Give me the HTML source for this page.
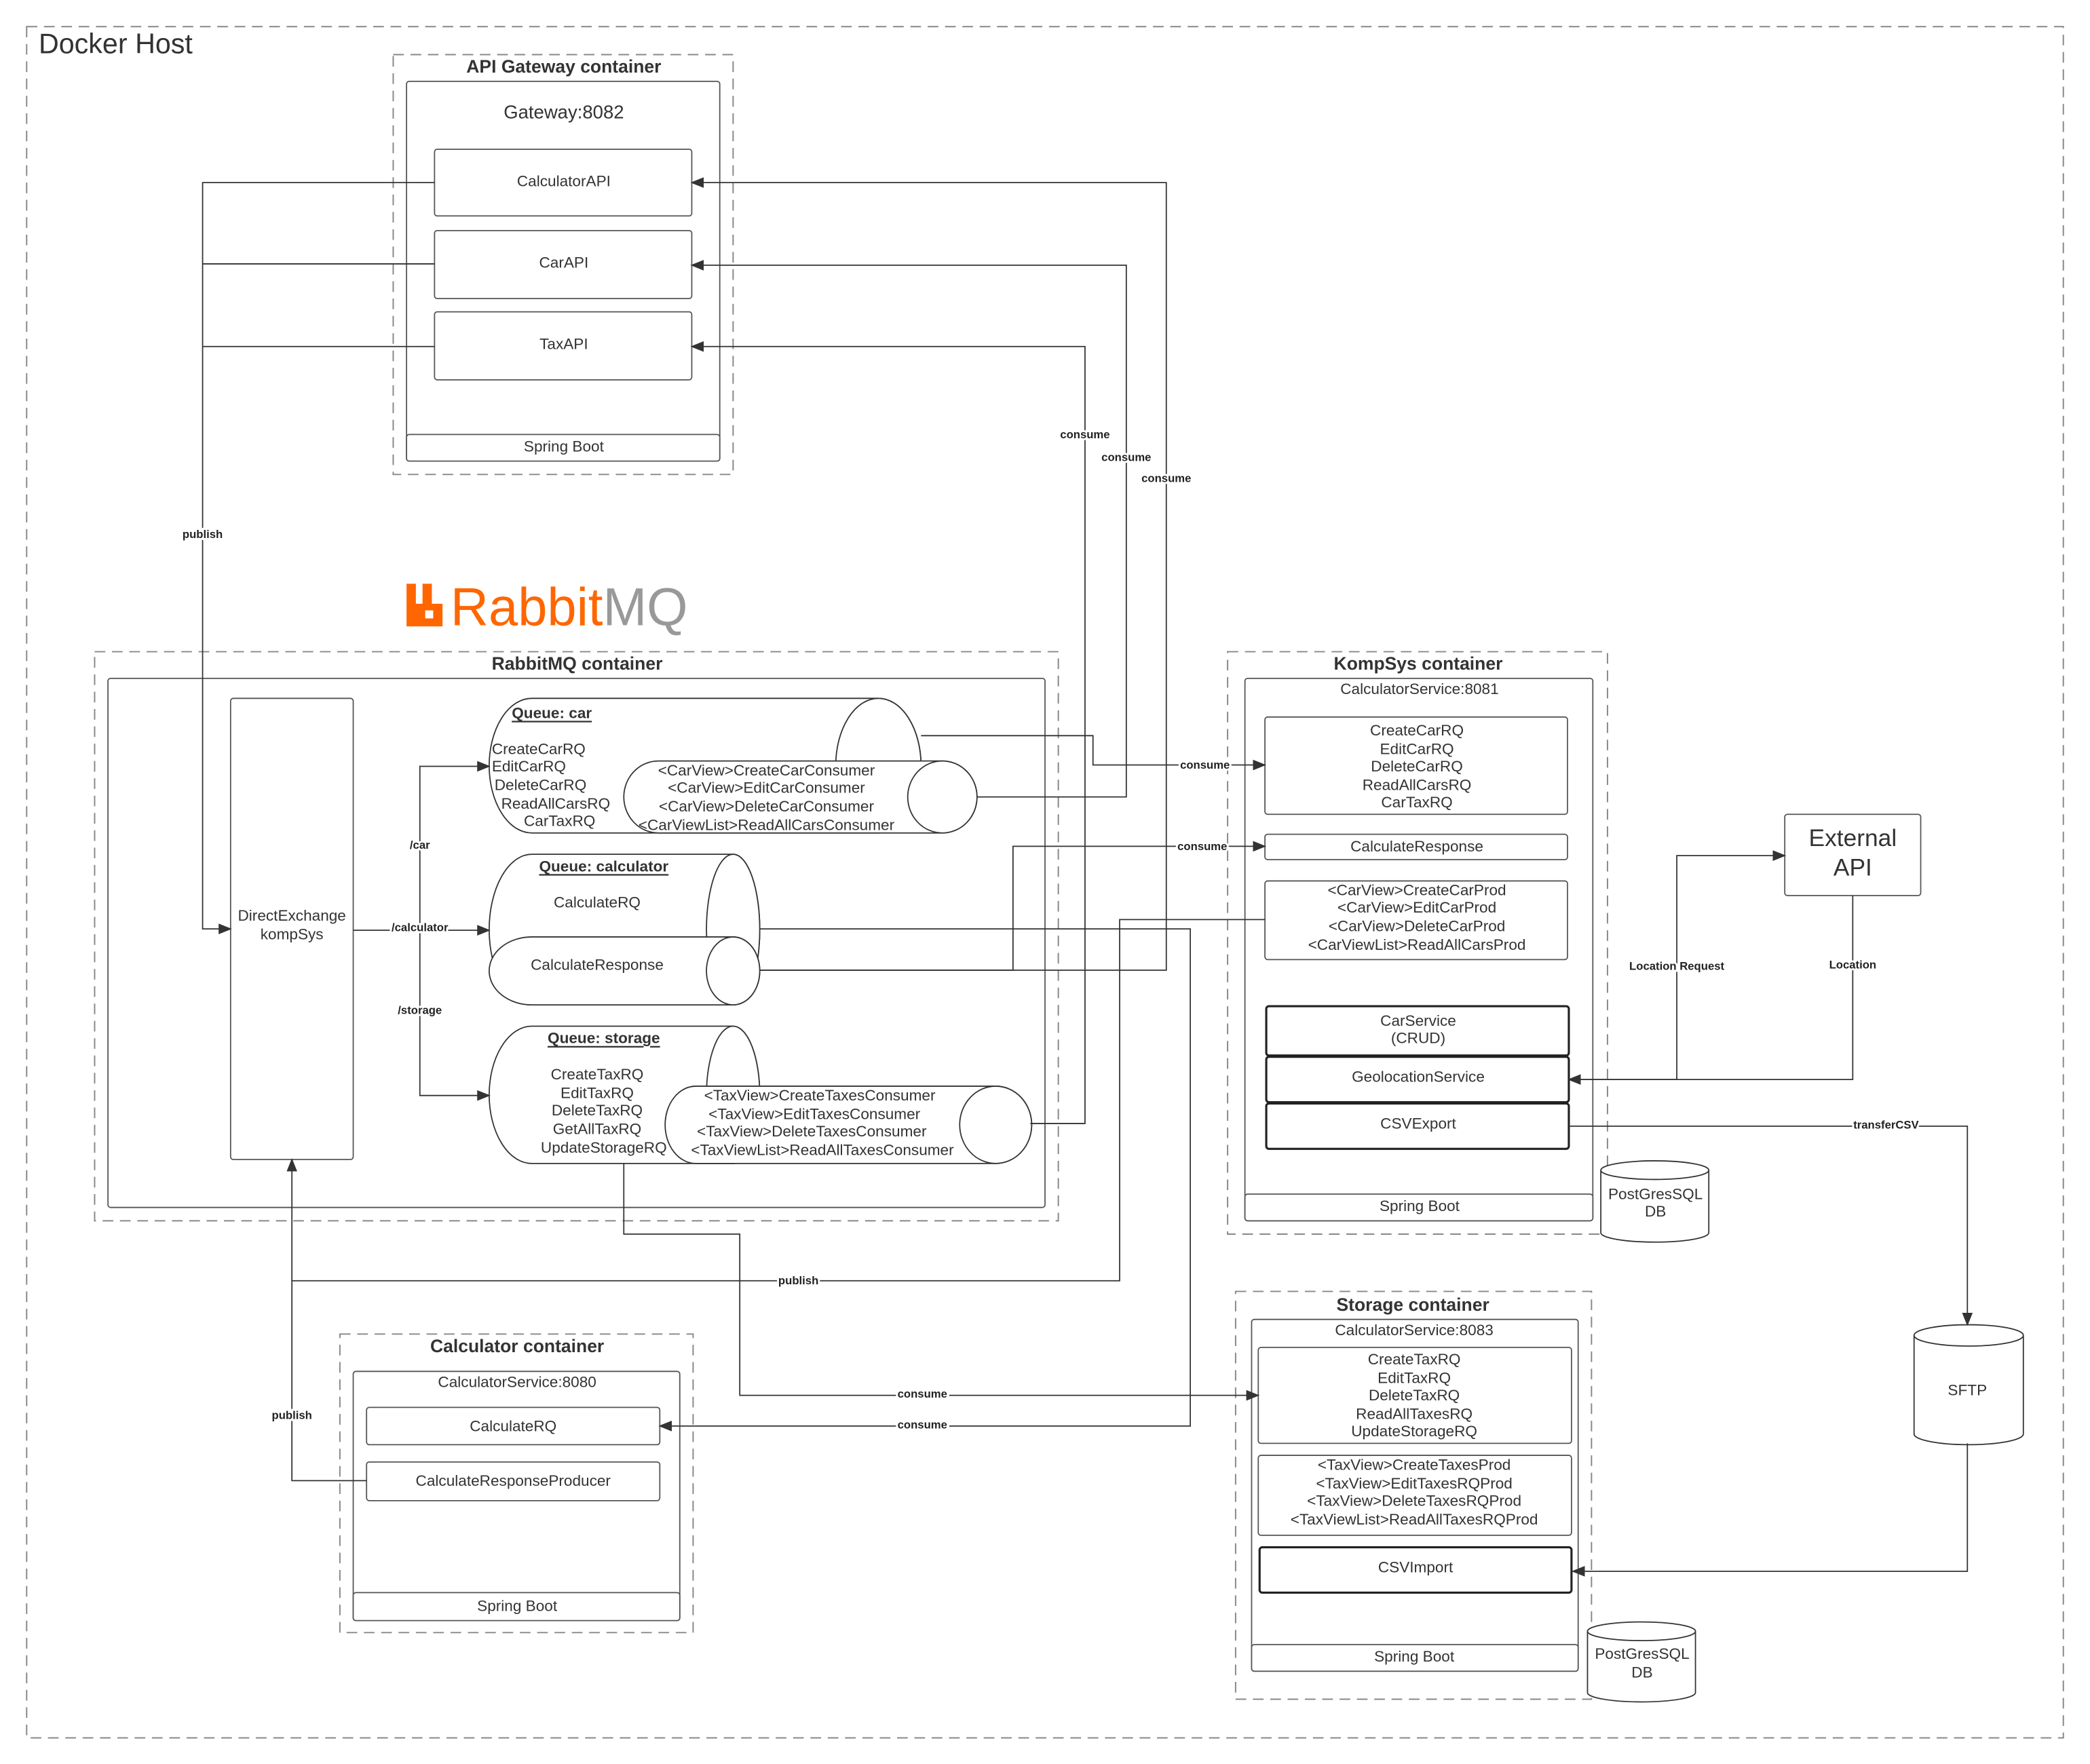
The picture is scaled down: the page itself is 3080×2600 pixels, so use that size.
<!DOCTYPE html>
<html><head><meta charset="utf-8"><style>
html,body{margin:0;padding:0;background:#fff}
svg{display:block}
text{font-family:"Liberation Sans",sans-serif;fill:#333}
.b{font-weight:bold}
.t{font-size:11.5px}
.lb{font-size:8.5px;font-weight:bold;fill:#222;stroke:#fff;stroke-width:3;paint-order:stroke}
.dash{fill:none;stroke:#888;stroke-width:1;stroke-dasharray:8 5}
.bx{fill:#fff;stroke:#555;stroke-width:0.9}
.ct{fill:none;stroke:#555;stroke-width:0.9}
.tb{fill:#fff;stroke:#222;stroke-width:1.6}
.ln{fill:none;stroke:#333;stroke-width:0.9}
.cy{fill:#fff;stroke:#333;stroke-width:0.9}
</style></head><body>
<svg width="3080" height="2600" viewBox="0 0 1568 1323.6" preserveAspectRatio="none" xmlns="http://www.w3.org/2000/svg">
<defs><marker id="a" markerWidth="10" markerHeight="8" refX="9" refY="4" orient="auto" markerUnits="userSpaceOnUse"><path d="M0,0 L10,4 L0,8 Z" fill="#333"/></marker></defs>
<rect x="0" y="0" width="1568" height="1324" fill="#fff"/>
<rect class="dash" x="20" y="20" width="1528" height="1284"/>
<text x="29" y="40" style="font-size:21px">Docker Host</text>

<!-- API Gateway -->
<rect class="dash" x="295" y="41" width="255" height="315"/>
<text x="423" y="50" class="b" style="font-size:13.5px" text-anchor="middle" dominant-baseline="central">API Gateway container</text>
<rect class="ct" x="305" y="61" width="235" height="285" rx="2"/>
<text x="423" y="84" style="font-size:14px" text-anchor="middle" dominant-baseline="central">Gateway:8082</text>
<rect class="bx" x="326" y="112" width="193" height="50" rx="2"/>
<text x="423" y="136" class="t" text-anchor="middle" dominant-baseline="central">CalculatorAPI</text>
<rect class="bx" x="326" y="173" width="193" height="51" rx="2"/>
<text x="423" y="197" class="t" text-anchor="middle" dominant-baseline="central">CarAPI</text>
<rect class="bx" x="326" y="234" width="193" height="51" rx="2"/>
<text x="423" y="258" class="t" text-anchor="middle" dominant-baseline="central">TaxAPI</text>
<rect class="bx" x="305" y="326" width="235" height="20" rx="2"/>
<text x="423" y="335" class="t" text-anchor="middle" dominant-baseline="central">Spring Boot</text>

<!-- Rabbit logo -->
<path d="M305,438 h7 v15 h5 v-15 h7 v15 h8 v17 h-27 z" style="fill:#f60"/>
<rect x="319" y="458" width="6" height="6" style="fill:#fff"/>
<text x="338" y="469" style="font-size:40px;fill:#f60" textLength="178" lengthAdjust="spacingAndGlyphs">Rabbit<tspan style="fill:#999">MQ</tspan></text>

<!-- RabbitMQ container -->
<rect class="dash" x="71" y="489" width="723" height="427"/>
<text x="433" y="498" class="b" style="font-size:13.5px" text-anchor="middle" dominant-baseline="central">RabbitMQ container</text>
<rect class="ct" x="81" y="509" width="703" height="397" rx="2"/>
<rect class="bx" x="173" y="524" width="92" height="346" rx="2"/>
<text x="219" y="687" class="t" text-anchor="middle" dominant-baseline="central">DirectExchange</text>
<text x="219" y="701" class="t" text-anchor="middle" dominant-baseline="central">kompSys</text>

<!-- Queue car -->
<path class="cy" d="M399,524 H659 A32,50.5 0 0 1 659,625 H399 A32,50.5 0 0 1 399,524 Z"/>
<ellipse class="cy" cx="659" cy="574.5" rx="32" ry="50.5"/>
<path class="cy" d="M494,571 H707 A26,27 0 0 1 707,625 H494 A26,27 0 0 1 494,571 Z"/>
<ellipse class="cy" cx="707" cy="598" rx="26" ry="27"/>
<text x="414" y="535" class="b t" text-anchor="middle" dominant-baseline="central" text-decoration="underline">Queue: car</text>
<g class="t">
<text x="369" y="562" dominant-baseline="central">CreateCarRQ</text>
<text x="369" y="575" dominant-baseline="central">EditCarRQ</text>
<text x="371" y="589" dominant-baseline="central">DeleteCarRQ</text>
<text x="376" y="603" dominant-baseline="central">ReadAllCarsRQ</text>
<text x="393" y="616" dominant-baseline="central">CarTaxRQ</text>
<text x="575" y="578" text-anchor="middle" dominant-baseline="central">&lt;CarView&gt;CreateCarConsumer</text>
<text x="575" y="591" text-anchor="middle" dominant-baseline="central">&lt;CarView&gt;EditCarConsumer</text>
<text x="575" y="605" text-anchor="middle" dominant-baseline="central">&lt;CarView&gt;DeleteCarConsumer</text>
<text x="575" y="619" text-anchor="middle" dominant-baseline="central">&lt;CarViewList&gt;ReadAllCarsConsumer</text>
</g>

<!-- Queue calculator -->
<path class="cy" d="M399,641 H550 A20,56.5 0 0 1 550,754 H399 A32,56.5 0 0 1 399,641 Z"/>
<ellipse class="cy" cx="550" cy="697.5" rx="20" ry="56.5"/>
<path class="cy" d="M399,703 H550 A20,25.5 0 0 1 550,754 H399 A32,25.5 0 0 1 399,703 Z"/>
<ellipse class="cy" cx="550" cy="728.5" rx="20" ry="25.5"/>
<text x="453" y="650" class="b t" text-anchor="middle" dominant-baseline="central" text-decoration="underline">Queue: calculator</text>
<text x="448" y="677" class="t" text-anchor="middle" dominant-baseline="central">CalculateRQ</text>
<text x="448" y="724" class="t" text-anchor="middle" dominant-baseline="central">CalculateResponse</text>

<!-- Queue storage -->
<path class="cy" d="M399,770 H550 A20,51.5 0 0 1 550,873 H399 A32,51.5 0 0 1 399,770 Z"/>
<ellipse class="cy" cx="550" cy="821.5" rx="20" ry="51.5"/>
<path class="cy" d="M522,815 H747 A27,29 0 0 1 747,873 H522 A23,29 0 0 1 522,815 Z"/>
<ellipse class="cy" cx="747" cy="844" rx="27" ry="29"/>
<text x="453" y="779" class="b t" text-anchor="middle" dominant-baseline="central" text-decoration="underline">Queue: storage</text>
<g class="t" text-anchor="middle">
<text x="448" y="806" dominant-baseline="central">CreateTaxRQ</text>
<text x="448" y="820" dominant-baseline="central">EditTaxRQ</text>
<text x="448" y="833" dominant-baseline="central">DeleteTaxRQ</text>
<text x="448" y="847" dominant-baseline="central">GetAllTaxRQ</text>
<text x="453" y="861" dominant-baseline="central">UpdateStorageRQ</text>
<text x="615" y="822" dominant-baseline="central">&lt;TaxView&gt;CreateTaxesConsumer</text>
<text x="611" y="836" dominant-baseline="central">&lt;TaxView&gt;EditTaxesConsumer</text>
<text x="609" y="849" dominant-baseline="central">&lt;TaxView&gt;DeleteTaxesConsumer</text>
<text x="617" y="863" dominant-baseline="central">&lt;TaxViewList&gt;ReadAllTaxesConsumer</text>
</g>

<!-- KompSys -->
<rect class="dash" x="921" y="489" width="285" height="437"/>
<text x="1064" y="498" class="b" style="font-size:13.5px" text-anchor="middle" dominant-baseline="central">KompSys container</text>
<rect class="ct" x="934" y="509" width="261" height="407" rx="2"/>
<rect class="bx" x="949" y="538" width="227" height="73" rx="2"/>
<rect class="bx" x="949" y="626" width="227" height="19" rx="2"/>
<rect class="bx" x="949" y="661" width="227" height="59" rx="2"/>
<rect class="tb" x="950" y="755" width="227" height="37" rx="2"/>
<rect class="tb" x="950" y="793" width="227" height="34" rx="2"/>
<rect class="tb" x="950" y="828" width="227" height="34" rx="2"/>
<rect class="bx" x="934" y="896" width="261" height="20" rx="2"/>
<g class="t" text-anchor="middle">
<text x="1065" y="517" dominant-baseline="central">CalculatorService:8081</text>
<text x="1063" y="548" dominant-baseline="central">CreateCarRQ</text>
<text x="1063" y="562" dominant-baseline="central">EditCarRQ</text>
<text x="1063" y="575" dominant-baseline="central">DeleteCarRQ</text>
<text x="1063" y="589" dominant-baseline="central">ReadAllCarsRQ</text>
<text x="1063" y="602" dominant-baseline="central">CarTaxRQ</text>
<text x="1063" y="635" dominant-baseline="central">CalculateResponse</text>
<text x="1063" y="668" dominant-baseline="central">&lt;CarView&gt;CreateCarProd</text>
<text x="1063" y="681" dominant-baseline="central">&lt;CarView&gt;EditCarProd</text>
<text x="1063" y="695" dominant-baseline="central">&lt;CarView&gt;DeleteCarProd</text>
<text x="1063" y="709" dominant-baseline="central">&lt;CarViewList&gt;ReadAllCarsProd</text>
<text x="1064" y="766" dominant-baseline="central">CarService</text>
<text x="1064" y="779" dominant-baseline="central">(CRUD)</text>
<text x="1064" y="808" dominant-baseline="central">GeolocationService</text>
<text x="1064" y="843" dominant-baseline="central">CSVExport</text>
<text x="1065" y="905" dominant-baseline="central">Spring Boot</text>
</g>
<path class="cy" d="M1201,878 V925 A40.5,7 0 0 0 1282,925 V878"/>
<ellipse class="cy" cx="1241.5" cy="878" rx="40.5" ry="7"/>
<text x="1242" y="896" class="t" text-anchor="middle" dominant-baseline="central">PostGresSQL</text>
<text x="1242" y="909" class="t" text-anchor="middle" dominant-baseline="central">DB</text>

<!-- External API -->
<rect class="bx" x="1339" y="611" width="102" height="61" rx="2"/>
<text x="1390" y="629" style="font-size:18px" text-anchor="middle" dominant-baseline="central">External</text>
<text x="1390" y="651" style="font-size:18px" text-anchor="middle" dominant-baseline="central">API</text>

<!-- SFTP -->
<path class="cy" d="M1436,1002 V1076 A41,8 0 0 0 1518,1076 V1002"/>
<ellipse class="cy" cx="1477" cy="1002" rx="41" ry="8"/>
<text x="1476" y="1043" class="t" text-anchor="middle" dominant-baseline="central">SFTP</text>

<!-- Storage -->
<rect class="dash" x="927" y="969" width="267" height="306"/>
<text x="1060" y="979" class="b" style="font-size:13.5px" text-anchor="middle" dominant-baseline="central">Storage container</text>
<rect class="ct" x="939" y="990" width="245" height="264" rx="2"/>
<rect class="bx" x="944" y="1011" width="235" height="72" rx="2"/>
<rect class="bx" x="944" y="1092" width="235" height="60" rx="2"/>
<rect class="tb" x="945" y="1161" width="234" height="34" rx="2"/>
<rect class="bx" x="939" y="1234" width="245" height="20" rx="2"/>
<g class="t" text-anchor="middle">
<text x="1061" y="998" dominant-baseline="central">CalculatorService:8083</text>
<text x="1061" y="1020" dominant-baseline="central">CreateTaxRQ</text>
<text x="1061" y="1034" dominant-baseline="central">EditTaxRQ</text>
<text x="1061" y="1047" dominant-baseline="central">DeleteTaxRQ</text>
<text x="1061" y="1061" dominant-baseline="central">ReadAllTaxesRQ</text>
<text x="1061" y="1074" dominant-baseline="central">UpdateStorageRQ</text>
<text x="1061" y="1099" dominant-baseline="central">&lt;TaxView&gt;CreateTaxesProd</text>
<text x="1061" y="1113" dominant-baseline="central">&lt;TaxView&gt;EditTaxesRQProd</text>
<text x="1061" y="1126" dominant-baseline="central">&lt;TaxView&gt;DeleteTaxesRQProd</text>
<text x="1061" y="1140" dominant-baseline="central">&lt;TaxViewList&gt;ReadAllTaxesRQProd</text>
<text x="1062" y="1176" dominant-baseline="central">CSVImport</text>
<text x="1061" y="1243" dominant-baseline="central">Spring Boot</text>
</g>
<path class="cy" d="M1191,1224 V1270 A40.5,7 0 0 0 1272,1270 V1224"/>
<ellipse class="cy" cx="1231.5" cy="1224" rx="40.5" ry="7"/>
<text x="1232" y="1241" class="t" text-anchor="middle" dominant-baseline="central">PostGresSQL</text>
<text x="1232" y="1255" class="t" text-anchor="middle" dominant-baseline="central">DB</text>

<!-- Calculator -->
<rect class="dash" x="255" y="1001" width="265" height="224"/>
<text x="388" y="1010" class="b" style="font-size:13.5px" text-anchor="middle" dominant-baseline="central">Calculator container</text>
<rect class="ct" x="265" y="1029" width="245" height="187" rx="2"/>
<rect class="bx" x="275" y="1056" width="220" height="28" rx="2"/>
<rect class="bx" x="275" y="1097" width="220" height="29" rx="2"/>
<rect class="bx" x="265" y="1195" width="245" height="21" rx="2"/>
<g class="t" text-anchor="middle">
<text x="388" y="1037" dominant-baseline="central">CalculatorService:8080</text>
<text x="385" y="1070" dominant-baseline="central">CalculateRQ</text>
<text x="385" y="1111" dominant-baseline="central">CalculateResponseProducer</text>
<text x="388" y="1205" dominant-baseline="central">Spring Boot</text>
</g>

<!-- connectors -->
<g class="ln">
<path d="M326,137 H152 V697 H173" marker-end="url(#a)"/>
<path d="M326,198 H152"/><path d="M326,260 H152"/>
<path d="M265,698 H367" marker-end="url(#a)"/>
<path d="M315,698 V575 H367" marker-end="url(#a)"/>
<path d="M315,698 V822 H367" marker-end="url(#a)"/>
<path d="M691,552 H820 V574 H949" marker-end="url(#a)"/>
<path d="M733,598 H845 V199 H519" marker-end="url(#a)"/>
<path d="M773,843 H814 V260 H519" marker-end="url(#a)"/>
<path d="M570,728 H875 V137 H519" marker-end="url(#a)"/>
<path d="M570,728 H760 V635 H949" marker-end="url(#a)"/>
<path d="M570,697 H893 V1070 H495" marker-end="url(#a)"/>
<path d="M468,873 V926 H555 V1047 H944" marker-end="url(#a)"/>
<path d="M949,690 H840 V961 H219 V870" marker-end="url(#a)"/>
<path d="M275,1111 H219 V961"/>
<path d="M1177,810 H1258 V642 H1339" marker-end="url(#a)"/>
<path d="M1390,672 V810 H1177" marker-end="url(#a)"/>
<path d="M1177,845 H1476 V994" marker-end="url(#a)"/>
<path d="M1476,1083 V1179 H1180" marker-end="url(#a)"/>
</g>

<!-- connector labels -->
<g text-anchor="middle">
<text class="lb" x="152" y="401" dominant-baseline="central">publish</text>
<text class="lb" x="315" y="634" dominant-baseline="central">/car</text>
<text class="lb" x="315" y="696" dominant-baseline="central">/calculator</text>
<text class="lb" x="315" y="758" dominant-baseline="central">/storage</text>
<text class="lb" x="814" y="326" dominant-baseline="central">consume</text>
<text class="lb" x="845" y="343" dominant-baseline="central">consume</text>
<text class="lb" x="875" y="359" dominant-baseline="central">consume</text>
<text class="lb" x="904" y="574" dominant-baseline="central">consume</text>
<text class="lb" x="902" y="635" dominant-baseline="central">consume</text>
<text class="lb" x="599" y="961" dominant-baseline="central">publish</text>
<text class="lb" x="219" y="1062" dominant-baseline="central">publish</text>
<text class="lb" x="692" y="1046" dominant-baseline="central">consume</text>
<text class="lb" x="692" y="1069" dominant-baseline="central">consume</text>
<text class="lb" x="1258" y="725" dominant-baseline="central">Location Request</text>
<text class="lb" x="1390" y="724" dominant-baseline="central">Location</text>
<text class="lb" x="1415" y="844" dominant-baseline="central">transferCSV</text>
</g>
</svg>
</body></html>
